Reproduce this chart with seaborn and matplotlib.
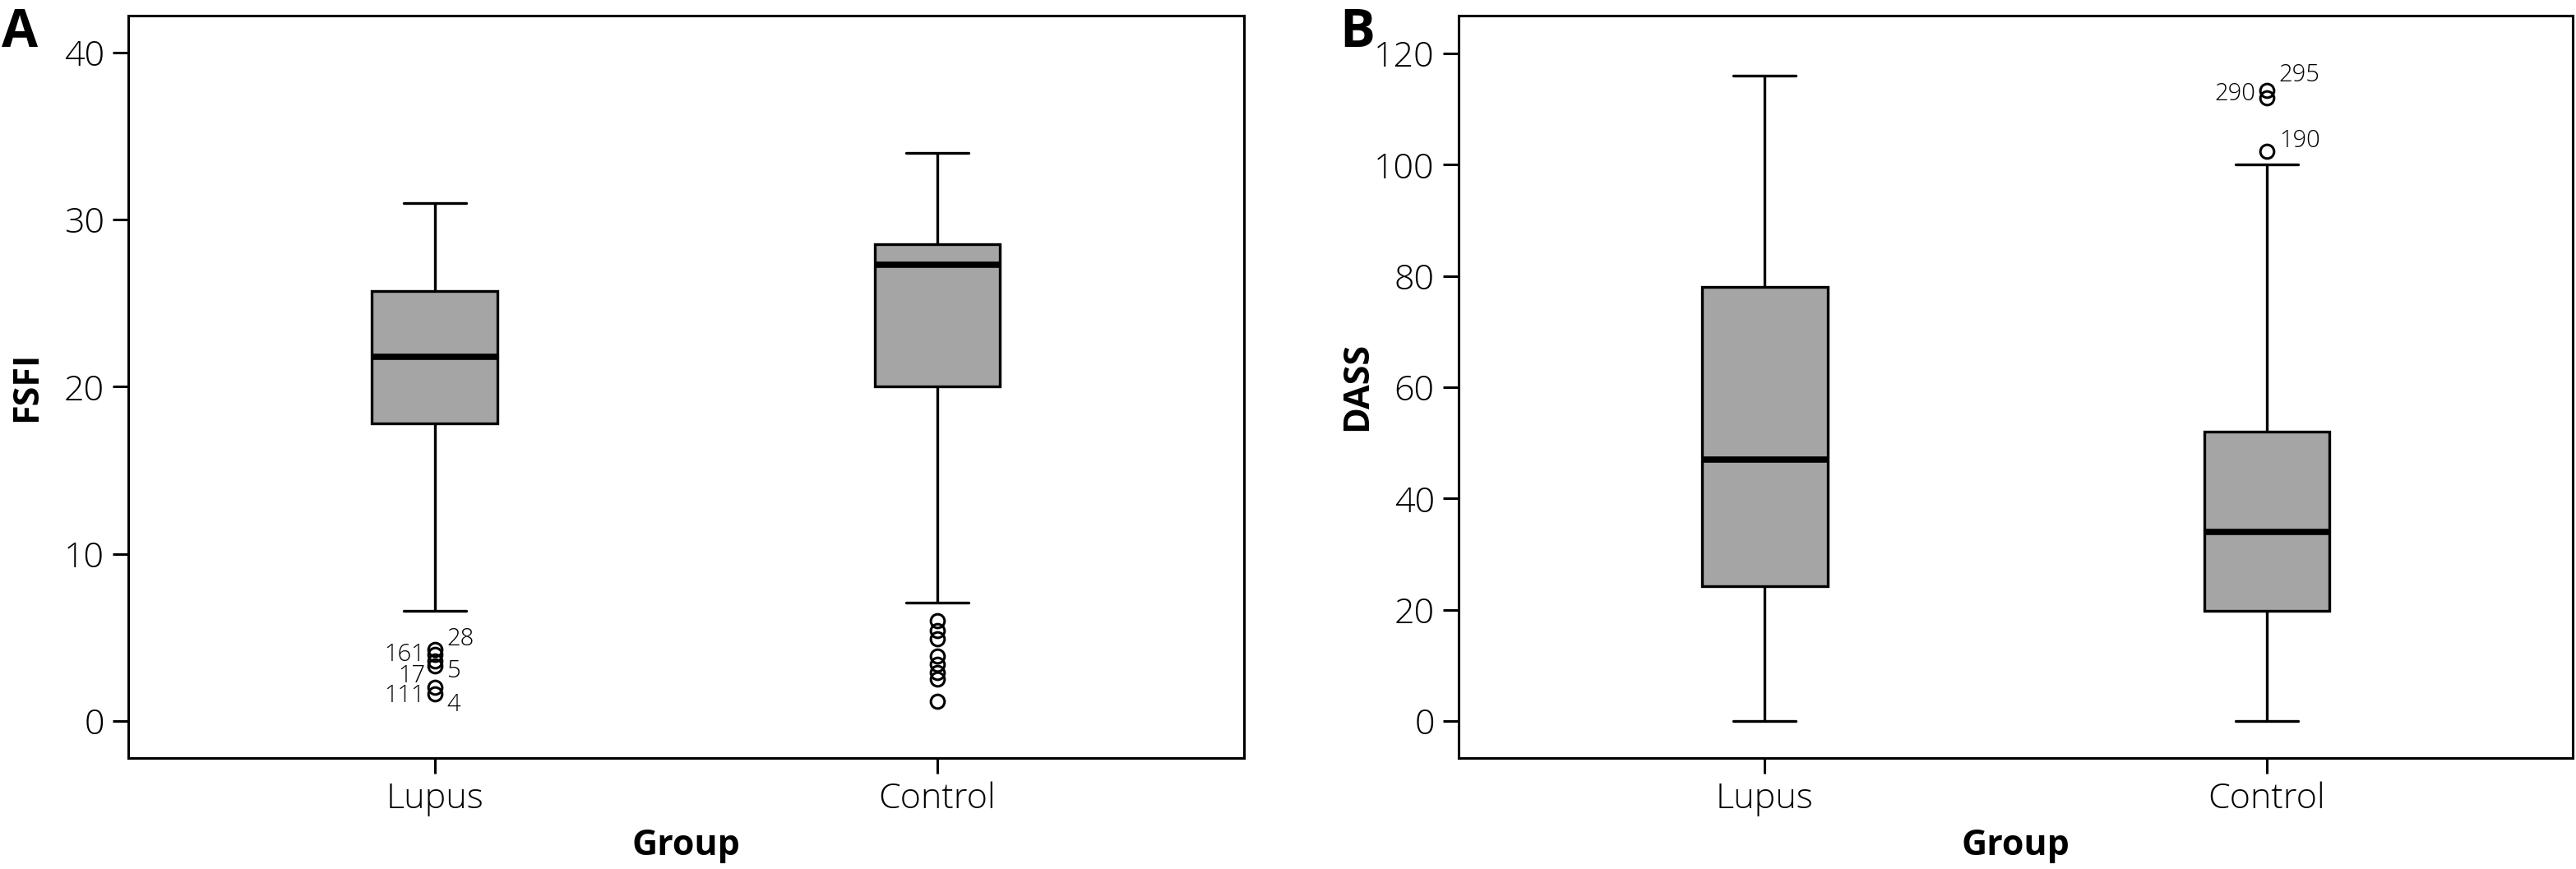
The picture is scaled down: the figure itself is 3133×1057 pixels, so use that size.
import pandas as pd
import seaborn as sns
import matplotlib.pyplot as plt

groups = ['Lupus', 'Control']

# FSFI scores (outliers kept apart so they can be labelled)
fsfi_lupus = [6.6, 17.8, 18.4, 19.0, 19.7, 20.3, 20.9, 21.4, 21.8, 22.3, 22.9,
              23.5, 24.1, 24.6, 25.2, 25.7, 26.3, 27.0, 27.8, 28.6, 29.4, 30.2, 31.0]
fsfi_lupus_out = [4.3, 4.0, 3.6, 3.3, 2.0, 1.6]
fsfi_lupus_ids = ['28', '161', '5', '17', '111', '4']
fsfi_control = [7.1, 20.0, 21.2, 22.3, 23.4, 24.3, 25.1, 25.8, 26.4, 26.9, 27.3,
                27.4, 27.6, 27.7, 27.9, 28.0, 28.2, 28.3, 28.4, 28.55,
                29.0, 29.6, 30.2, 30.9, 31.6, 32.3, 32.9, 33.5, 34.0]
fsfi_control_out = [1.2, 2.5, 2.9, 3.4, 3.9, 4.9, 5.4, 6.0]

# DASS scores
dass_lupus = [0, 9, 17, 24.2, 31, 39, 47, 56, 67, 78, 89, 102, 116]
dass_control = [0, 6, 11, 15, 18, 19.8, 23, 26, 29, 32, 34, 37, 41, 45, 49, 52, 71, 100]
dass_control_out = [113.3, 112.0, 102.4]
dass_control_ids = ['295', '290', '190']

fsfi_ticks = [0, 10, 20, 30, 40]
dass_ticks = [0, 20, 40, 60, 80, 100, 120]


def long_frame(lupus, control, name):
    return pd.DataFrame({
        'Group': ['Lupus'] * len(lupus) + ['Control'] * len(control),
        name: list(lupus) + list(control),
    })


sns.set_style('ticks')
plt.rcParams['font.family'] = ['Open Sans', 'DejaVu Sans']
plt.rcParams['font.weight'] = 'light'
plt.rcParams['text.color'] = 'black'
plt.rcParams['axes.labelcolor'] = 'black'
plt.rcParams['axes.linewidth'] = 2.2

fig = plt.figure(figsize=(31.33, 10.57), dpi=100)
ax1 = fig.add_axes([0.0498, 0.128, 0.4331, 0.854])
ax2 = fig.add_axes([0.5662, 0.128, 0.4326, 0.854])

box_kw = dict(order=groups, color='#a5a5a5', saturation=1, width=0.25,
              linecolor='black', linewidth=2.4,
              medianprops=dict(linewidth=5.5, color='black'),
              flierprops=dict(marker='o', markersize=12, markerfacecolor='none',
                              markeredgecolor='black', markeredgewidth=2.2))

df_a = long_frame(fsfi_lupus + fsfi_lupus_out, fsfi_control + fsfi_control_out, 'FSFI')
df_b = long_frame(dass_lupus, dass_control + dass_control_out, 'DASS')

sns.boxplot(data=df_a, x='Group', y='FSFI', ax=ax1, whis=1.6, **box_kw)
sns.boxplot(data=df_b, x='Group', y='DASS', ax=ax2, whis=1.5, **box_kw)

ax1.set_ylim(-2.2, 42.2)
ax1.set_yticks(fsfi_ticks)
ax2.set_ylim(-6.6, 126.8)
ax2.set_yticks(dass_ticks)

for ax in (ax1, ax2):
    ax.set_xlim(-0.61, 1.61)
    ax.tick_params(axis='both', direction='out', length=14, width=2.2,
                   labelsize=31, colors='black', pad=7)
    for sp in ax.spines.values():
        sp.set_visible(True)
        sp.set_linewidth(2.2)
        sp.set_color('black')
    ax.set_xlabel('Group', fontsize=31, fontweight='bold', color='black')
    ax.xaxis.set_label_coords(0.5, -0.095)
    ax.set_ylabel(ax.get_ylabel(), fontsize=31, fontweight='bold', color='black')
    ax.yaxis.set_label_coords(-0.075, 0.5)

# case numbers next to the outliers, SPSS style
lupus_offsets = [(15, 12), (-12, -1), (15, -12), (-12, -12), (-12, -10), (15, -13)]
for val, cid, (dx, dy) in zip(fsfi_lupus_out, fsfi_lupus_ids, lupus_offsets):
    ax1.annotate(cid, (0, val), xytext=(dx, dy), textcoords='offset pixels',
                 ha='left' if dx > 0 else 'right', va='center', fontsize=21,
                 color='black')

control_offsets = [(15, 19), (-14, 5), (15, 13)]
for val, cid, (dx, dy) in zip(dass_control_out, dass_control_ids, control_offsets):
    ax2.annotate(cid, (1, val), xytext=(dx, dy), textcoords='offset pixels',
                 ha='left' if dx > 0 else 'right', va='center', fontsize=21,
                 color='black')

fig.text(0.0005, 0.946, 'A', fontsize=46, fontweight='bold', va='baseline', color='black')
fig.text(0.52, 0.946, 'B', fontsize=46, fontweight='bold', va='baseline', color='black')

fig.savefig('out.png', dpi=100)
